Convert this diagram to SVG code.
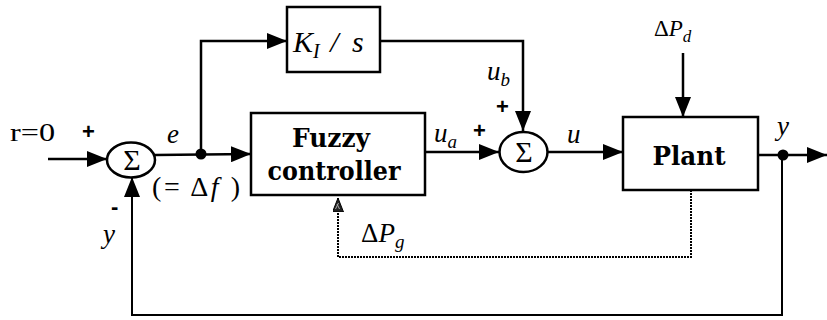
<svg xmlns="http://www.w3.org/2000/svg" width="827" height="320" viewBox="0 0 827 320">
<defs>
<marker id="arr" markerUnits="userSpaceOnUse" markerWidth="20" markerHeight="16" refX="20" refY="8" orient="auto">
<path d="M0,0 L20,8 L0,16 Z" fill="#000"/>
</marker>
<marker id="arrg" markerUnits="userSpaceOnUse" markerWidth="14" markerHeight="12" refX="14" refY="5.5" orient="auto">
<path d="M0,0 L14,5.5 L0,11 Z" fill="#222" stroke="#000" stroke-width="1"/>
<path d="M3,3 L9,6 M3,7 L8,4.5" stroke="#aaa" stroke-width="1"/>
</marker>
</defs>
<style>
.box{fill:#fff;stroke:#000;stroke-width:2.5}
.ln{fill:none;stroke:#000;stroke-width:2.5}
.dot{fill:none;stroke:#000;stroke-width:2;stroke-dasharray:2 1}
.t{font-family:"Liberation Serif","Times New Roman","DejaVu Serif",serif;fill:#000}
.lbl{font-style:italic;font-size:27px}
.sg{font-family:"Liberation Sans","DejaVu Sans",sans-serif;font-weight:bold;font-size:22px;fill:#000}
.bt{font-family:"DejaVu Serif",serif;font-weight:bold;font-size:26px;text-anchor:middle;fill:#000}
.sub{font-size:19px}
.sig{font-size:30px;text-anchor:middle}
</style>
<g id="connectors">
<line class="ln" x1="48" y1="159" x2="107" y2="159" marker-end="url(#arr)"/>
<line class="ln" x1="155" y1="155" x2="251" y2="154" marker-end="url(#arr)"/>
<polyline class="ln" points="201,154 201,41 287,41" marker-end="url(#arr)"/>
<polyline class="ln" points="380,41 523,41 523,131" marker-end="url(#arr)"/>
<line class="ln" x1="425" y1="152" x2="499" y2="152" marker-end="url(#arr)"/>
<line class="ln" x1="548" y1="152" x2="623" y2="152" marker-end="url(#arr)"/>
<line class="ln" x1="683" y1="53" x2="683" y2="117" marker-end="url(#arr)"/>
<line class="ln" x1="758" y1="155" x2="827" y2="155" marker-end="url(#arr)"/>
<polyline class="ln" points="782,155 782,315 132,315 132,177" marker-end="url(#arr)" style="stroke-width:2"/>
<polyline class="dot" points="691,190 691,257 338,257 338,198" marker-end="url(#arrg)"/>
<circle cx="201" cy="154" r="5.5" fill="#000"/>
<circle cx="783" cy="155" r="5.5" fill="#000"/>
</g>
<g id="sum1">
<ellipse cx="131" cy="160" rx="24" ry="17.5" fill="#fff" stroke="#000" stroke-width="2.5"/>
<text class="t sig" x="132" y="170">Σ</text>
</g>
<g id="ki">
<rect class="box" x="287" y="7" width="93" height="65"/>
<text class="t lbl" x="293" y="52" style="font-size:30px">K<tspan class="sub" dy="6" style="font-size:20px">I</tspan><tspan dy="-6" style="letter-spacing:3px"> / s</tspan></text>
</g>
<g id="fuzzy">
<rect class="box" x="251" y="113" width="174" height="82"/>
<text class="bt" x="331" y="147" textLength="78" lengthAdjust="spacingAndGlyphs">Fuzzy</text>
<text class="bt" x="334" y="180" textLength="133" lengthAdjust="spacingAndGlyphs">controller</text>
</g>
<g id="sum2">
<ellipse cx="523.5" cy="152" rx="24" ry="20" fill="#fff" stroke="#000" stroke-width="2.5"/>
<text class="t sig" x="524" y="162">Σ</text>
</g>
<g id="plant">
<rect class="box" x="623" y="117" width="135" height="73"/>
<text class="bt" x="689" y="165" textLength="73" lengthAdjust="spacingAndGlyphs">Plant</text>
</g>
<g id="labels">
<text class="t" x="10" y="141" style="font-size:26px" textLength="45" lengthAdjust="spacingAndGlyphs">r=0</text>
<text class="sg" x="82" y="139">+</text>
<text class="t lbl" x="167" y="143">e</text>
<text class="t" x="152" y="196" style="font-size:28px" textLength="88" lengthAdjust="spacing">(= Δ<tspan font-style="italic">f</tspan> )</text>
<text class="sg" x="111" y="214">-</text>
<text class="t lbl" x="103" y="243">y</text>
<text class="t lbl" x="434" y="142">u<tspan class="sub" dy="6">a</tspan></text>
<text class="sg" x="473" y="138">+</text>
<text class="t lbl" x="487" y="80">u<tspan class="sub" dy="6">b</tspan></text>
<text class="sg" x="496" y="114">+</text>
<text class="t lbl" x="567" y="143">u</text>
<text class="t" x="654" y="36" style="font-size:23px">Δ<tspan font-style="italic">P</tspan><tspan font-style="italic" font-size="17" dy="6">d</tspan></text>
<text class="t lbl" x="777" y="135">y</text>
<text class="t" x="361" y="242" style="font-size:27px">Δ<tspan font-style="italic">P</tspan><tspan font-style="italic" font-size="19" dy="6">g</tspan></text>
</g>
</svg>
